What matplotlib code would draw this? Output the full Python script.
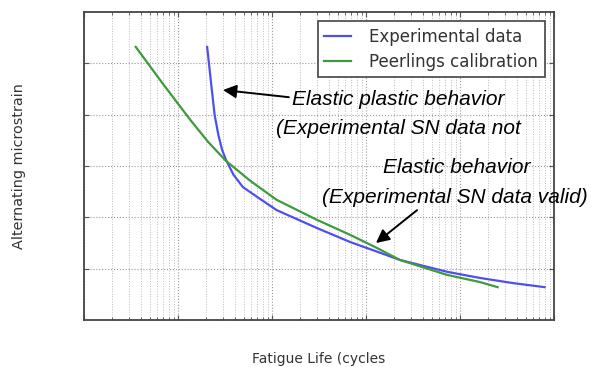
import matplotlib.pyplot as plt
import numpy as np

# log10(cycles), alternating microstrain (arbitrary units, unlabelled axis)
exp_logn = [4.31, 4.36, 4.39, 4.43, 4.47, 4.51, 4.59, 4.69, 4.84, 5.05, 5.48, 5.83,
            6.12, 6.36, 6.86, 7.21, 7.56, 7.90]
exp_y = [5.32, 4.48, 3.99, 3.60, 3.31, 3.12, 2.83, 2.59, 2.40, 2.14, 1.79, 1.52,
         1.33, 1.17, 0.94, 0.82, 0.72, 0.64]
peer_logn = [3.55, 3.84, 4.13, 4.32, 4.51, 4.77, 5.05, 5.48, 5.83, 6.12, 6.36,
             6.86, 7.21, 7.40]
peer_y = [5.32, 4.60, 3.90, 3.47, 3.10, 2.71, 2.34, 1.95, 1.66, 1.40, 1.17,
          0.88, 0.74, 0.64]

fig = plt.figure(figsize=(5.92, 3.67), dpi=100)
ax = fig.add_axes([84 / 592, 1 - 320 / 367, 470 / 592, 308 / 367])

ax.semilogx(10 ** np.array(exp_logn), exp_y, color='#4f4fee', lw=1.6, label='Experimental data')
ax.semilogx(10 ** np.array(peer_logn), peer_y, color='#3f9a3f', lw=1.6, label='Peerlings calibration')

ax.set_xlim(1e3, 1e8)
ax.set_ylim(0, 6)
ax.set_yticks([1, 2, 3, 4, 5])
ax.set_xticklabels([], minor=True)
ax.set_xticklabels([])
ax.set_yticklabels([])
ax.tick_params(which='both', direction='in', top=True, right=True, colors='#555555')
ax.grid(True, which='major', ls=':', color='#999999', lw=0.8)
ax.grid(True, which='minor', axis='x', ls=':', color='#bbbbbb', lw=0.7)
for s in ax.spines.values():
    s.set_color('#444444')
    s.set_linewidth(1.3)

leg = ax.legend(loc='upper right', fontsize=12, fancybox=False, framealpha=1,
                edgecolor='#444444', handlelength=1.6, handletextpad=1.1,
                borderaxespad=0.55, borderpad=0.4, labelspacing=0.4)
leg.get_frame().set_linewidth(1.2)
for t in leg.get_texts():
    t.set_color('#333333')

ax.set_xlabel('Fatigue Life (cycles', fontsize=10, color='#333333')
ax.xaxis.set_label_coords(0.5, -0.104)
ax.set_ylabel('Alternating microstrain', fontsize=10.4, color='#333333')
ax.yaxis.set_label_coords(-0.123, 0.5)

fk = dict(family='Liberation Sans', style='italic', fontsize=15, color='black')
ax.text(10 ** 6.34, 4.29, 'Elastic plastic behavior', ha='center', va='center', **fk)
ax.text(10 ** 6.34, 3.74, '(Experimental SN data not', ha='center', va='center', **fk)
ax.text(10 ** 6.968, 2.98, 'Elastic behavior', ha='center', va='center', clip_on=False, **fk)
ax.text(10 ** 6.947, 2.38, '(Experimental SN data valid)', ha='center', va='center',
        clip_on=False, **fk)

arrow = dict(arrowstyle='-|>', color='black', lw=1.4, mutation_scale=20, shrinkA=0, shrinkB=0)
ax.annotate('', xy=(10 ** 4.479, 4.48), xytext=(10 ** 5.18, 4.34), arrowprops=arrow)
ax.annotate('', xy=(10 ** 6.106, 1.50), xytext=(10 ** 6.543, 2.14), arrowprops=arrow)

fig.savefig('out.png', dpi=100)
